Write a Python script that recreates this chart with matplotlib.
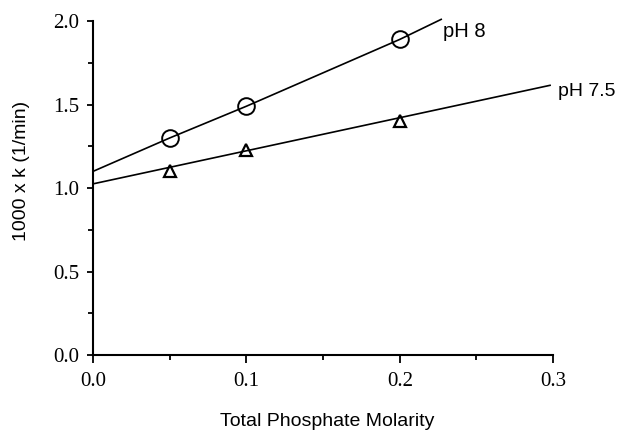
import matplotlib.pyplot as plt
from matplotlib.ticker import MultipleLocator, FormatStrFormatter

# rate constants (x1000, 1/min) vs total phosphate concentration
conc = [0.05, 0.1, 0.2]
k_ph8 = [1.30, 1.49, 1.89]
k_ph75 = [1.10, 1.23, 1.40]

# drawn lines, extended to the axis and past the last point
line8_x = [0.0, 0.05, 0.1, 0.2, 0.227]
line8_y = [1.10, 1.30, 1.49, 1.89, 2.01]
line75_x = [0.0, 0.298]
line75_y = [1.025, 1.615]

xticks = [0.0, 0.1, 0.2, 0.3]
yticks = [0.0, 0.5, 1.0, 1.5, 2.0]

fig = plt.figure(figsize=(6.21, 4.30), dpi=100)
ax = fig.add_axes([0.150, 0.1744, 0.7407, 0.7767])

ax.plot(line8_x, line8_y, color="black", lw=1.2, clip_on=False)
ax.plot(line75_x, line75_y, color="black", lw=1.2, clip_on=False)
ax.plot(conc, k_ph8, "o", ms=12, mfc="none", mec="black", mew=1.4, clip_on=False)
ax.plot(conc, k_ph75, "^", ms=9, mfc="none", mec="black", mew=1.6, clip_on=False)

ax.text(0.2285, 1.94, "pH 8", fontsize=14.5, family="Liberation Sans", va="center")
ax.text(0.303, 1.578, "pH 7.5", fontsize=14, family="Liberation Sans", va="center")

ax.set_xlim(0, 0.3)
ax.set_ylim(0, 2.0)
ax.set_xticks(xticks)
ax.set_yticks(yticks)
ax.xaxis.set_minor_locator(MultipleLocator(0.05))
ax.yaxis.set_minor_locator(MultipleLocator(0.25))
ax.xaxis.set_major_formatter(FormatStrFormatter("%.1f"))
ax.yaxis.set_major_formatter(FormatStrFormatter("%.1f"))

ax.tick_params(which="both", direction="out", width=1.3, color="black",
               labelsize=15, labelfontfamily="Liberation Serif")
ax.tick_params(which="minor", length=3.5)
ax.tick_params(axis="x", which="major", length=6, pad=6)
ax.tick_params(axis="y", which="major", length=4.5, pad=5.5)

ax.spines["top"].set_visible(False)
ax.spines["right"].set_visible(False)
ax.spines["left"].set_linewidth(1.5)
ax.spines["bottom"].set_linewidth(1.5)

ax.set_xlabel("Total Phosphate Molarity", family="Liberation Sans", fontsize=14)
ax.set_ylabel("1000 x k (1/min)", family="Liberation Sans", fontsize=14)
ax.xaxis.set_label_coords(0.508, -0.174)
ax.yaxis.set_label_coords(-0.155, 0.55)
ax.yaxis.label.set_va("center")

fig.savefig("out.png", dpi=100)
